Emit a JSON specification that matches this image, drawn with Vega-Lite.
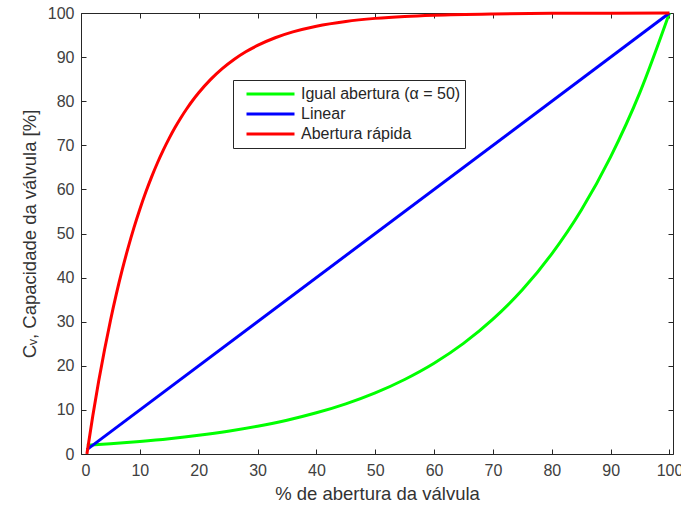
{
  "$schema": "https://vega.github.io/schema/vega-lite/v6.json",
  "autosize": "none",
  "width": 592,
  "height": 441,
  "padding": {"left": 81, "top": 13, "right": 8, "bottom": 52},
  "background": "white",
  "config": {
    "view": {"stroke": "#262626", "strokeWidth": 1},
    "font": "Liberation Sans",
    "axis": {
      "labelFont": "Liberation Sans",
      "titleFont": "Liberation Sans",
      "labelFontSize": 16,
      "titleFontSize": 18.5,
      "titleFontWeight": "normal",
      "labelColor": "#404040",
      "titleColor": "#333333",
      "domainColor": "#262626",
      "tickColor": "#262626",
      "tickWidth": 1,
      "grid": false
    }
  },
  "datasets": {
    "curves": [
      {"serie": "Igual abertura (α = 50)", "x": 1, "y": 2.0},
      {"serie": "Igual abertura (α = 50)", "x": 5, "y": 2.34},
      {"serie": "Igual abertura (α = 50)", "x": 10, "y": 2.86},
      {"serie": "Igual abertura (α = 50)", "x": 15, "y": 3.48},
      {"serie": "Igual abertura (α = 50)", "x": 20, "y": 4.24},
      {"serie": "Igual abertura (α = 50)", "x": 25, "y": 5.16},
      {"serie": "Igual abertura (α = 50)", "x": 30, "y": 6.29},
      {"serie": "Igual abertura (α = 50)", "x": 35, "y": 7.66},
      {"serie": "Igual abertura (α = 50)", "x": 40, "y": 9.34},
      {"serie": "Igual abertura (α = 50)", "x": 45, "y": 11.38},
      {"serie": "Igual abertura (α = 50)", "x": 50, "y": 13.86},
      {"serie": "Igual abertura (α = 50)", "x": 55, "y": 16.9},
      {"serie": "Igual abertura (α = 50)", "x": 60, "y": 20.58},
      {"serie": "Igual abertura (α = 50)", "x": 65, "y": 25.08},
      {"serie": "Igual abertura (α = 50)", "x": 70, "y": 30.57},
      {"serie": "Igual abertura (α = 50)", "x": 75, "y": 37.23},
      {"serie": "Igual abertura (α = 50)", "x": 80, "y": 45.38},
      {"serie": "Igual abertura (α = 50)", "x": 85, "y": 55.27},
      {"serie": "Igual abertura (α = 50)", "x": 90, "y": 67.37},
      {"serie": "Igual abertura (α = 50)", "x": 95, "y": 82.05},
      {"serie": "Igual abertura (α = 50)", "x": 100, "y": 100},
      {"serie": "Linear", "x": 1, "y": 1},
      {"serie": "Linear", "x": 100, "y": 100},
      {"serie": "Abertura rápida", "x": 1, "y": 0},
      {"serie": "Abertura rápida", "x": 2, "y": 8.61},
      {"serie": "Abertura rápida", "x": 3, "y": 16.47},
      {"serie": "Abertura rápida", "x": 4, "y": 23.66},
      {"serie": "Abertura rápida", "x": 5, "y": 30.23},
      {"serie": "Abertura rápida", "x": 6, "y": 36.24},
      {"serie": "Abertura rápida", "x": 7, "y": 41.73},
      {"serie": "Abertura rápida", "x": 8, "y": 46.74},
      {"serie": "Abertura rápida", "x": 9, "y": 51.32},
      {"serie": "Abertura rápida", "x": 10, "y": 55.51},
      {"serie": "Abertura rápida", "x": 11, "y": 59.34},
      {"serie": "Abertura rápida", "x": 12, "y": 62.84},
      {"serie": "Abertura rápida", "x": 13, "y": 66.04},
      {"serie": "Abertura rápida", "x": 14, "y": 68.96},
      {"serie": "Abertura rápida", "x": 15, "y": 71.63},
      {"serie": "Abertura rápida", "x": 16, "y": 74.08},
      {"serie": "Abertura rápida", "x": 17, "y": 76.31},
      {"serie": "Abertura rápida", "x": 18, "y": 78.35},
      {"serie": "Abertura rápida", "x": 19, "y": 80.21},
      {"serie": "Abertura rápida", "x": 20, "y": 81.91},
      {"serie": "Abertura rápida", "x": 22, "y": 84.89},
      {"serie": "Abertura rápida", "x": 24, "y": 87.38},
      {"serie": "Abertura rápida", "x": 26, "y": 89.46},
      {"serie": "Abertura rápida", "x": 28, "y": 91.2},
      {"serie": "Abertura rápida", "x": 30, "y": 92.65},
      {"serie": "Abertura rápida", "x": 33, "y": 94.39},
      {"serie": "Abertura rápida", "x": 36, "y": 95.71},
      {"serie": "Abertura rápida", "x": 40, "y": 97.01},
      {"serie": "Abertura rápida", "x": 45, "y": 98.09},
      {"serie": "Abertura rápida", "x": 50, "y": 98.78},
      {"serie": "Abertura rápida", "x": 55, "y": 99.23},
      {"serie": "Abertura rápida", "x": 60, "y": 99.51},
      {"serie": "Abertura rápida", "x": 70, "y": 99.8},
      {"serie": "Abertura rápida", "x": 80, "y": 99.92},
      {"serie": "Abertura rápida", "x": 90, "y": 99.97},
      {"serie": "Abertura rápida", "x": 100, "y": 100}
    ]
  },
  "data": {"name": "curves"},
  "resolve": {"axis": {"x": "independent", "y": "independent"}},
  "layer": [
    {
      "mark": {"type": "line", "strokeWidth": 3, "interpolate": "monotone", "clip": false},
      "encoding": {
        "x": {
          "field": "x", "type": "quantitative",
          "scale": {"domain": [0, 100.6], "nice": false, "zero": false},
          "axis": {"values": [0,10,20,30,40,50,60,70,80,90,100], "tickSize": -5, "labelPadding": 13, "title": "% de abertura da válvula", "titlePadding": 6, "domain": false}
        },
        "y": {
          "field": "y", "type": "quantitative",
          "scale": {"domain": [0, 100], "nice": false},
          "axis": {"values": [0,10,20,30,40,50,60,70,80,90,100], "tickSize": -5, "labelPadding": 12, "title": "Cᵥ, Capacidade da válvula [%]", "titlePadding": 8, "domain": false}
        },
        "color": {
          "field": "serie", "type": "nominal",
          "sort": ["Igual abertura (α = 50)", "Linear", "Abertura rápida"],
          "scale": {"domain": ["Igual abertura (α = 50)", "Linear", "Abertura rápida"], "range": ["#00ff00", "#0000ff", "#ff0000"]},
          "legend": {
            "title": null,
            "orient": "none",
            "legendX": 152,
            "legendY": 67,
            "strokeColor": "#262626",
            "fillColor": "white",
            "padding": 4,
            "symbolType": "stroke",
            "symbolSize": 2304,
            "symbolStrokeWidth": 3,
            "symbolOffset": 8,
            "clipHeight": 20,
            "rowPadding": 0,
            "labelFontSize": 16,
            "labelColor": "#262626",
            "labelFont": "Liberation Sans",
            "labelOffset": 5
          }
        }
      }
    },
    {
      "mark": {"type": "line", "opacity": 0},
      "encoding": {
        "x": {"field": "x", "type": "quantitative", "axis": {"orient": "top", "values": [0,10,20,30,40,50,60,70,80,90,100], "tickSize": -5, "labels": false, "title": null, "domain": false}},
        "y": {"field": "y", "type": "quantitative", "axis": {"orient": "right", "values": [0,10,20,30,40,50,60,70,80,90,100], "tickSize": -5, "labels": false, "title": null, "domain": false}},
        "detail": {"field": "serie"}
      }
    }
  ]
}
